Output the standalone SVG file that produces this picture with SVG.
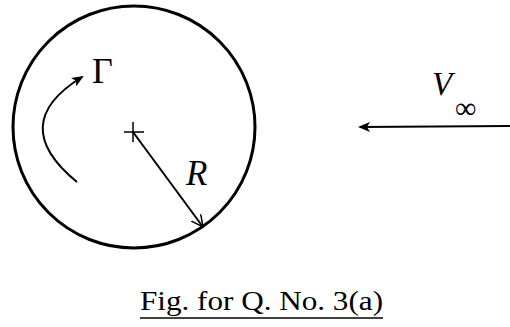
<svg xmlns="http://www.w3.org/2000/svg" width="510" height="327" viewBox="0 0 510 327">
<style>
.ln{fill:none;stroke:#000;stroke-width:2}
.t{font-family:"Liberation Serif","Times New Roman",serif;fill:#000}
</style>
<defs>
<marker id="fa" markerWidth="12" markerHeight="10" refX="10" refY="5" orient="auto" markerUnits="userSpaceOnUse"><path d="M0,0 L12,5 L0,10 L3,5 Z" fill="#000"/></marker>
<marker id="oa" markerWidth="14" markerHeight="12" refX="12" refY="6" orient="auto" markerUnits="userSpaceOnUse"><path d="M0,0 L12,6 L0,12" fill="none" stroke="#000" stroke-width="1.5"/></marker>
</defs>
<rect width="510" height="327" fill="#fff"/>
<g id="cylinder">
<circle cx="134" cy="127" r="121" fill="none" stroke="#000" stroke-width="3"/>
<path d="M124,132 H144 M133,122 V142" stroke="#000" stroke-width="1.5"/>
</g>
<g id="circulation">
<text class="t" x="92" y="83" font-size="36">Γ</text>
</g>
<g id="radius-label">
<text class="t" x="186" y="185" font-size="35" font-style="italic">R</text>
</g>
<g id="freestream">
<text class="t" x="432" y="95" font-size="33" font-style="italic">V</text>
<text class="t" x="455" y="118" font-size="30">∞</text>
</g>
<g id="connectors">
<path class="ln" d="M77,182 Q6,124 82,77" marker-end="url(#fa)"/>
<path class="ln" stroke-width="1.6" d="M133,132 L203,227" marker-end="url(#oa)"/>
<path class="ln" d="M510,126 L360,127" marker-end="url(#fa)"/>
</g>
<g id="caption">
<text class="t" x="140" y="310" font-size="27" textLength="243" lengthAdjust="spacingAndGlyphs">Fig. for Q. No. 3(a)</text>
<line x1="140" y1="318" x2="383" y2="318" stroke="#000" stroke-width="1.5"/>
</g>
</svg>
